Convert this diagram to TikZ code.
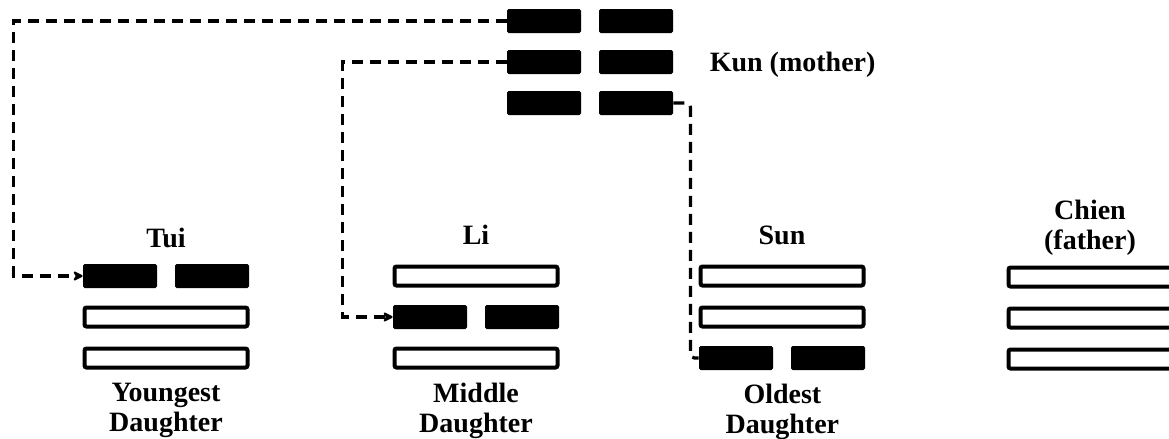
\documentclass[tikz,border=0pt]{standalone}
\usepackage{fontspec}
\setmainfont{Liberation Serif}
\usepackage{tikz}
\usetikzlibrary{arrows.meta, positioning}
\tikzset{
  yang/.style={draw, line width=2pt, rounded corners=1pt, minimum width=81.5pt,
               minimum height=9.5pt, inner sep=0pt, on grid},
  yin/.style={fill, rounded corners=0.8pt, minimum width=37pt, minimum height=12pt,
              inner sep=0pt, on grid},
  lbl/.style={font=\fontsize{14}{15}\selectfont\bfseries, inner sep=0pt, align=center},
  link/.style={dash pattern=on 5.5pt off 3.5pt, line width=1.6pt},
  tip/.style={-{Stealth[length=6pt, width=6pt, round]}},
}
\begin{document}
\begin{tikzpicture}[x=0.5pt, y=-0.5pt, node distance=20.5pt]
\useasboundingbox (0,0) rectangle (1169,439);
\clip (0,0) rectangle (1169,439);

% Kun (mother)
\node[yin] (kun1a) at (544,21) {};
\node[yin, right=46pt of kun1a] (kun1b) {};
\node[yin, below=of kun1a] (kun2a) {};
\node[yin, right=46pt of kun2a] (kun2b) {};
\node[yin, below=of kun2a] (kun3a) {};
\node[yin, right=46pt of kun3a] (kun3b) {};
\node[lbl, right=18pt of kun2b, yshift=-1.5pt] (kunname) {Kun (mother)};

% Tui
\node[yin] (tui1a) at (120,276) {};
\node[yin, right=46pt of tui1a] (tui1b) {};
\node[yang, below right=20.5pt and 23pt of tui1a] (tui2) {};
\node[yang, below=of tui2] (tui3) {};
\node[lbl] (tuiname) at (166,237.5) {Tui};
\node[lbl, below=6.5pt of tui3] (tuitext) {Youngest\\Daughter};

% Li
\node[yang] (li1) at (476,276) {};
\node[yin, below left=20.5pt and 23pt of li1] (li2a) {};
\node[yin, right=46pt of li2a] (li2b) {};
\node[yang, below=41pt of li1] (li3) {};
\node[lbl, above=9.75pt of li1] (liname) {Li};
\node[lbl, below=6.5pt of li3] (litext) {Middle\\Daughter};

% Sun
\node[yang] (sun1) at (782,276) {};
\node[yang, below=of sun1] (sun2) {};
\node[yin, below left=20.5pt and 23pt of sun2] (sun3a) {};
\node[yin, right=46pt of sun3a] (sun3b) {};
\node[lbl, above=9.75pt of sun1] (sunname) {Sun};
\node[lbl, below=6.5pt of sun3a.south east, xshift=4.5pt] (suntext) {Oldest\\Daughter};

% Chien (father)
\node[yang] (chien1) at (1090,277) {};
\node[yang, below=of chien1] (chien2) {};
\node[yang, below=of chien2] (chien3) {};
\node[lbl, above=5pt of chien1] (chienname) {Chien\\(father)};

\draw[link, tip] (kun1a.west) -- ++(-493,0) |- (tui1a.west);
\draw[link, tip] (kun2a.west) -- ++(-164,0) |- (li2a.west);
\draw[link, rounded corners=2pt] (kun3b.east) -- ++(17,0) |- (sun3a.west);
\end{tikzpicture}
\end{document}
